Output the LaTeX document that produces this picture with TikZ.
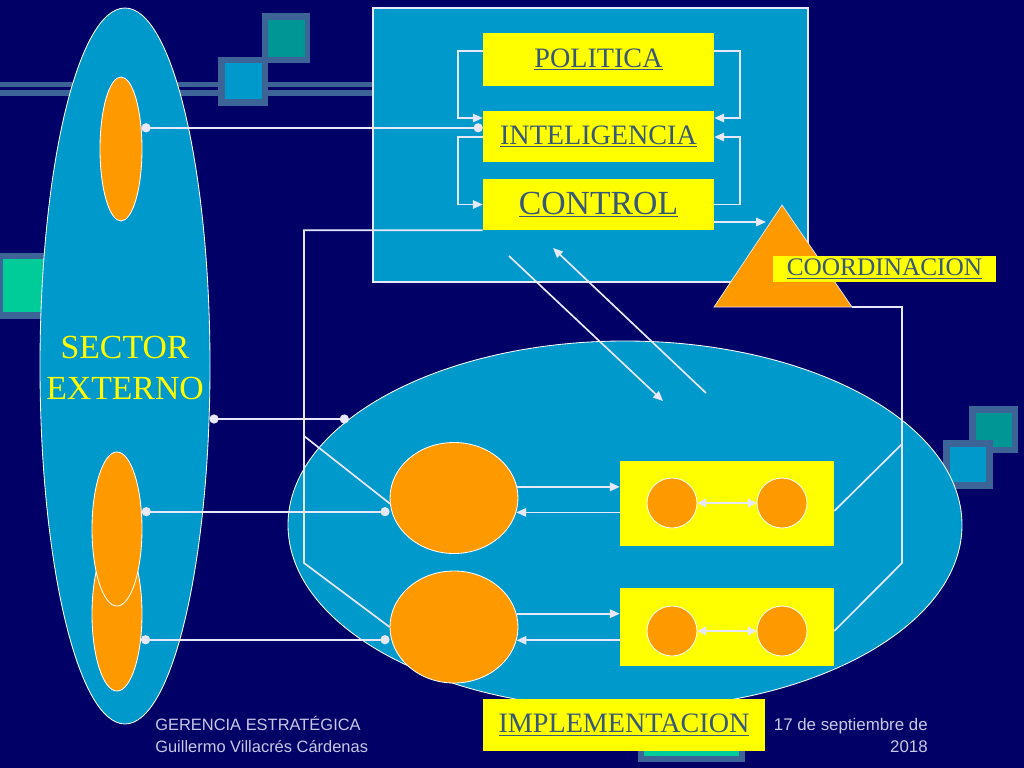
\documentclass[tikz,border=0pt]{standalone}
\usepackage{fontspec}
\setmainfont{Liberation Serif}
\setsansfont{Liberation Sans}
\usetikzlibrary{shapes.geometric,arrows.meta}

\definecolor{navy}{RGB}{0,0,102}
\definecolor{sky}{RGB}{0,153,204}
\definecolor{amber}{RGB}{255,153,0}
\definecolor{lemon}{RGB}{255,255,0}
\definecolor{slate}{RGB}{55,88,120}
\definecolor{frameblue}{RGB}{60,100,150}
\definecolor{tealc}{RGB}{0,150,150}
\definecolor{mint}{RGB}{0,204,153}
\definecolor{linec}{RGB}{232,232,252}
\definecolor{footc}{RGB}{200,200,230}
\newcommand{\pxu}{0.025cm}

\tikzset{
  pane/.style={rectangle, fill=sky, draw=linec, line width=0.8pt, inner sep=0pt},
  field/.style={ellipse, fill=sky, draw=white, line width=0.6pt, inner sep=0pt},
  tag/.style={rectangle, fill=lemon, inner sep=0pt, text=slate},
  blob/.style={ellipse, fill=amber, draw=white, line width=0.6pt, inner sep=0pt},
  conn/.style={draw=linec, line width=1.2pt},
  arr/.style={conn, -{Triangle[length=7pt,width=6pt]}},
  dotline/.style={conn, {Circle[length=6.5pt]}-{Circle[length=6.5pt]}},
}

\begin{document}
\begin{tikzpicture}[x=\pxu, y=-\pxu]
        \fill[navy] (0,0) rectangle (1024,768);
        \useasboundingbox (0,0) rectangle (1024,768);

        % background tiles
        \fill[frameblue] (0,82) rectangle (373,87);
        \fill[frameblue] (0,90) rectangle (373,96);
        \fill[frameblue] (262,13) rectangle (310,63);
        \fill[tealc] (268,20) rectangle (305,57);
        \fill[frameblue] (218,57) rectangle (268,106);
        \fill[sky] (225,63) rectangle (262,99);
        \fill[frameblue] (-5,253) rectangle (60,319);
        \fill[mint] (3,259) rectangle (52,312);
        \fill[frameblue] (969,406) rectangle (1018,453);
        \fill[tealc] (976,413) rectangle (1012,447);
        \fill[frameblue] (943,440) rectangle (993,489);
        \fill[sky] (950,447) rectangle (986,482);
        \fill[frameblue] (638,700) rectangle (745,762);
        \fill[mint] (644,706) rectangle (739,756);

        % sector externo
        \node[field, minimum width=170*\pxu, minimum height=716*\pxu] (ext) at (125,366) {};
        \node[text=lemon, align=center, font=\fontsize{24}{28.5}\selectfont] (extlbl) at (125,368) {SECTOR\\EXTERNO};
        \node[blob, minimum width=42*\pxu, minimum height=144*\pxu] (e1) at (121,149) {};
        \node[blob, minimum width=50*\pxu, minimum height=154*\pxu] (e3) at (117,614) {};
        \node[blob, minimum width=50*\pxu, minimum height=154*\pxu] (e2) at (117,529) {};

        % direccion
        \node[pane, minimum width=435*\pxu, minimum height=274*\pxu] (mgmt) at (590.5,145) {};
        \node[tag, minimum width=231*\pxu, minimum height=53*\pxu, font=\fontsize{20}{24}\selectfont] (pol) at (598.5,59.5) {\underline{POLITICA}};
        \node[tag, minimum width=231*\pxu, minimum height=51*\pxu, font=\fontsize{20}{24}\selectfont] (intel) at (598.5,136.5) {\underline{INTELIGENCIA}};
        \node[tag, minimum width=231*\pxu, minimum height=51*\pxu, font=\fontsize{24}{28}\selectfont] (ctrl) at (598.5,204.5) {\underline{CONTROL}};

        \fill[amber, draw=linec, line width=0.5pt] (782,205) coordinate (tri-top) -- (714,307) coordinate (tri-left) -- (852,307) coordinate (tri-right) -- cycle;
        \node[tag, minimum width=223*\pxu, minimum height=26*\pxu, font=\fontsize{18}{20}\selectfont] (coord) at (884.5,269) {\underline{COORDINACION}};

        % implementacion
        \node[field, minimum width=674*\pxu, minimum height=368*\pxu] (area) at (625,525) {};
        \node[blob, minimum width=128*\pxu, minimum height=111*\pxu] (org1) at (454,498) {};
        \node[blob, minimum width=128*\pxu, minimum height=112*\pxu] (org2) at (454,627) {};
        \node[tag, minimum width=214*\pxu, minimum height=85*\pxu] (unit1) at (727,503.5) {};
        \node[tag, minimum width=214*\pxu, minimum height=78*\pxu] (unit2) at (727,627) {};
        \node[blob, minimum size=50*\pxu] (u1a) at (672,503) {};
        \node[blob, minimum size=50*\pxu] (u1b) at (782,503) {};
        \node[blob, minimum size=50*\pxu] (u2a) at (672,631) {};
        \node[blob, minimum size=50*\pxu] (u2b) at (782,631) {};
        \node[tag, minimum width=282*\pxu, minimum height=52*\pxu, font=\fontsize{20}{24}\selectfont] (impl) at (624,725) {\underline{IMPLEMENTACION}};

        % footer
        \node[text=footc, align=left, anchor=west, inner sep=0pt, font=\sffamily\fontsize{11.7}{15.6}\selectfont] (foot) at (155,734) {GERENCIA ESTRATÉGICA\\Guillermo Villacrés Cárdenas};
        \node[text=footc, align=right, anchor=east, inner sep=0pt, font=\sffamily\fontsize{12}{15.6}\selectfont] (date) at (928,735) {17 de septiembre de\\2018};

        % loops
        \draw[arr] ([yshift=8.5*\pxu]pol.west) -- ++(-25,0) |- ([yshift=18.5*\pxu]intel.west);
        \draw[arr] ([yshift=-0.5*\pxu]intel.west) -- ++(-25,0) |- (ctrl.west);
        \draw[arr] ([yshift=8.5*\pxu]pol.east) -- ++(26,0) |- ([yshift=18.5*\pxu]intel.east);
        \draw[arr] (ctrl.east) -- ++(26,0) |- ([yshift=-0.5*\pxu]intel.east);
        \coordinate (trin) at (766,222);
        \draw[arr] (ctrl.east |- trin) -- (trin);

        % links
        \draw[dotline] (e1.46) -- (e1.46 -| intel.west);
        \draw[dotline] (ext.-32 |- area.159) -- (area.159);
        \draw[dotline] (e2.35) -- (e2.35 -| org1.west);
        \draw[dotline] (e3.-47) -- (e3.-47 -| org2.west);

        \draw[arr] (org1.10) -- (org1.10 -| unit1.west);
        \draw[arr] (org1.-13 -| unit1.west) -- (org1.-13);
        \draw[arr] (org2.12) -- (org2.12 -| unit2.west);
        \draw[arr] (org2.-12 -| unit2.west) -- (org2.-12);
        \draw[conn, {Triangle[length=6pt,width=6pt]}-{Triangle[length=6pt,width=6pt]}] (u1a) -- (u1b);
        \draw[conn, {Triangle[length=6pt,width=6pt]}-{Triangle[length=6pt,width=6pt]}] (u2a) -- (u2b);

        \coordinate (dn0) at (509,256);
        \coordinate (dn1) at (663,401);
        \coordinate (up0) at (706,393);
        \coordinate (up1) at (553,248);
        \draw[arr] (dn0) -- (dn1);
        \draw[arr] (up0) -- (up1);

        \coordinate (rj1) at (902,444);
        \coordinate (rj2) at (902,563);
        \draw[conn] (tri-right) -- (tri-right -| rj2) -- (rj2) -- ([yshift=-4*\pxu]unit2.east);
        \draw[conn] (rj1) -- ([yshift=-7.5*\pxu]unit1.east);

        \coordinate (lj1) at (304,436);
        \coordinate (lj2) at (304,563);
        \draw[conn] (ctrl.south west) -| (lj2) -- (org2.west);
        \draw[conn] (lj1) -- (org1.185);
\end{tikzpicture}
\end{document}
